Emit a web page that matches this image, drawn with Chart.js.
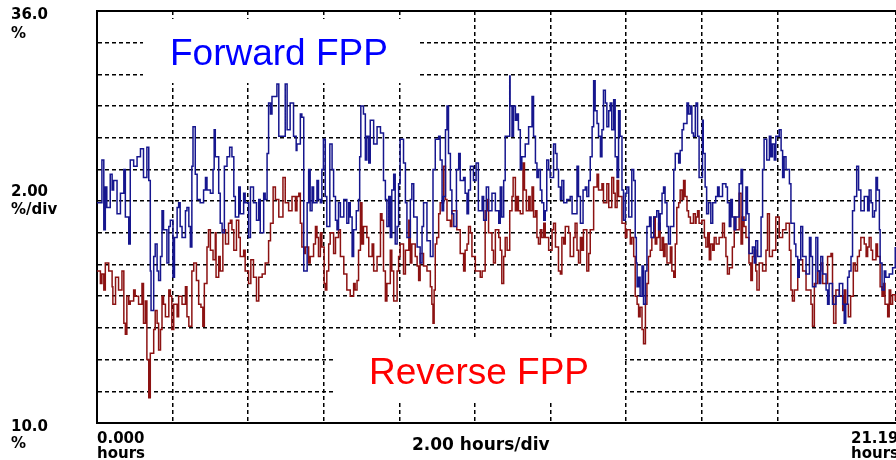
<!DOCTYPE html>
<html>
<head>
<meta charset="utf-8">
<script src="https://cdn.jsdelivr.net/npm/chart.js@4.4.0/dist/chart.umd.min.js"></script>
<style>
html, body { margin: 0; padding: 0; background: #fff; overflow: hidden; }
</style>
</head>
<body>
<canvas id="fppChart" width="896" height="460"></canvas>
<script>
// forward FPP (blue), hours / percent
var fwdHours = [
  0, .13, .18, .22, .26, .35, .40, .44, .53, .62,
  .71, .75, .84, .88, .97, 1.06, 1.15, 1.23, 1.32, 1.37,
  1.41, 1.43, 1.50, 1.54, 1.59, 1.63, 1.68, 1.72, 1.76, 1.85,
  1.90, 1.94, 2.01, 2.05, 2.12, 2.16, 2.20, 2.25, 2.34, 2.38,
  2.43, 2.47, 2.51, 2.54, 2.60, 2.65, 2.73, 2.82, 2.87, 2.91,
  3.00, 3.07, 3.10, 3.13, 3.22, 3.26, 3.31, 3.37, 3.44, 3.51,
  3.57, 3.62, 3.66, 3.75, 3.79, 3.88, 3.92, 4.01, 4.06, 4.14,
  4.22, 4.28, 4.32, 4.41, 4.45, 4.50, 4.54, 4.59, 4.63, 4.76,
  4.81, 4.98, 5.03, 5.11, 5.20, 5.27,
  5.29, 5.38, 5.42, 5.47, 5.56, 5.60, 5.64, 5.69, 5.73, 5.82,
  5.86, 5.91, 5.95, 5.99, 6.04, 6.08, 6.16, 6.22, 6.26, 6.31,
  6.35, 6.39, 6.44, 6.53, 6.61, 6.66, 6.70, 6.75, 6.79, 6.86,
  6.92, 6.95, 6.98, 7.05, 7.10, 7.14, 7.19, 7.23, 7.32, 7.41,
  7.50, 7.58, 7.63, 7.67, 7.72, 7.76, 7.80, 7.85, 7.89, 7.94,
  7.98, 8.02, 8.11, 8.16, 8.20, 8.29, 8.33, 8.38, 8.47, 8.55,
  8.60, 8.64, 8.73, 8.82, 8.89, 8.95, 9.04, 9.08, 9.13, 9.17,
  9.22, 9.26, 9.30, 9.35, 9.39, 9.44, 9.51, 9.57, 9.61, 9.70,
  9.74, 9.79, 9.83, 9.88, 9.96, 10.03, 10.09, 10.19, 10.23, 10.30,
  10.36, 10.45, 10.54,
  10.58, 10.63, 10.67, 10.71, 10.76, 10.80, 10.92, 10.93, 10.98, 11.02,
  11.07, 11.11, 11.15, 11.20, 11.24, 11.33, 11.42, 11.51, 11.55, 11.60,
  11.64, 11.68, 11.73, 11.77, 11.82, 11.86, 11.90, 11.95, 11.99, 12.08,
  12.13, 12.17, 12.21, 12.26, 12.30, 12.35, 12.43, 12.52, 12.57, 12.70,
  12.74, 12.79, 12.86, 12.92, 12.96, 13.01, 13.05, 13.10, 13.14, 13.18,
  13.23, 13.27, 13.32, 13.36, 13.40, 13.45, 13.49, 13.54, 13.58, 13.62,
  13.67, 13.71, 13.76, 13.80, 13.84, 13.89, 13.93, 13.98, 14.02, 14.07,
  14.15, 14.20, 14.24, 14.27, 14.29, 14.33, 14.37, 14.42, 14.46, 14.51,
  14.55, 14.62, 14.66, 14.73, 14.81, 14.86, 14.90, 14.95, 14.99, 15.03,
  15.08, 15.12, 15.17, 15.26, 15.30, 15.39, 15.43, 15.48, 15.52, 15.61,
  15.65, 15.70, 15.74, 15.78, 15.83,
  15.85, 15.89, 15.93, 16.02, 16.04, 16.09, 16.13, 16.18, 16.24, 16.29,
  16.37, 16.42, 16.46, 16.55, 16.64, 16.68, 16.73, 16.77, 16.81, 16.86,
  16.90, 16.99, 17.04, 17.08, 17.17, 17.21, 17.25, 17.34, 17.39, 17.43,
  17.48, 17.57, 17.61, 17.65, 17.72, 17.79, 17.83, 17.87, 17.92, 17.96,
  18.05, 18.10, 18.14, 18.18, 18.23, 18.32, 18.36, 18.45, 18.49, 18.54,
  18.58, 18.62, 18.67, 18.76, 18.85, 18.89, 18.93, 19.02, 19.07, 19.11,
  19.15, 19.20, 19.29, 19.33, 19.37, 19.46, 19.55, 19.64, 19.73, 19.77,
  19.81, 19.86, 19.90, 19.95, 19.99, 20.04, 20.10, 20.15, 20.21, 20.30,
  20.39, 20.43, 20.48, 20.52, 20.57, 20.61, 20.65, 20.70, 20.72, 20.77,
  20.83, 20.87, 20.96, 21.05, 21.12
];
var fwdPct = [
  23.9, 26.6, 22.2, 24.9, 23.6, 25.7, 24.7, 25.3, 23.2, 24.5,
  26.0, 23.0, 21.3, 26.6, 26.2, 26.8, 27.3, 25.5, 27.4, 25.3,
  19.6, 17.1, 20.5, 21.3, 19.6, 19.0, 20.5, 23.4, 22.2, 20.1,
  22.4, 22.8, 19.2, 21.7, 23.6, 23.9, 22.4, 21.7, 23.4, 23.6,
  22.4, 21.1, 26.2, 28.7, 25.7, 24.1, 23.9, 24.7, 25.5, 24.7,
  24.5, 26.0, 28.5, 26.8, 24.5, 22.6, 22.0, 26.2, 26.8, 27.4,
  26.8, 24.3, 23.0, 24.9, 23.2, 24.5, 23.9, 21.7, 24.9, 23.9,
  22.8, 24.1, 22.0, 24.5, 24.1, 27.0, 30.2, 29.5, 30.6, 31.4,
  28.1, 31.4, 28.5, 30.2, 28.1, 27.2,
  27.6, 29.5, 29.3, 19.6, 23.9, 26.0, 23.4, 24.9, 23.9, 25.3,
  24.1, 23.9, 26.0, 27.9, 24.3, 22.4, 27.6, 26.0, 24.3, 22.8,
  22.2, 23.9, 23.0, 24.1, 22.6, 23.9, 23.0, 20.5, 22.2, 23.4,
  24.1, 26.8, 30.0, 29.5, 26.6, 28.1, 26.4, 29.1, 27.6, 28.7,
  28.3, 25.3, 24.1, 22.4, 24.3, 21.7, 24.7, 25.7, 21.3, 22.4,
  25.1, 27.9, 26.4, 23.9, 21.7, 24.1, 25.1, 23.0, 21.1, 20.1,
  22.4, 23.9, 21.5, 20.5, 26.0, 27.9, 28.1, 26.6, 23.4, 24.3,
  28.5, 30.0, 27.0, 24.7, 23.2, 22.4, 26.0, 27.0, 25.3, 25.5,
  24.5, 23.2, 24.7, 26.2, 25.3, 26.4, 23.4, 24.3, 22.8, 24.9,
  23.4, 24.5, 23.4,
  23.4, 22.6, 24.9, 23.0, 25.3, 28.1, 31.9, 30.0, 28.1, 30.0,
  29.1, 29.5, 28.5, 26.0, 26.8, 27.6, 28.7, 30.6, 28.1, 26.4,
  25.5, 26.0, 24.7, 23.9, 22.8, 23.4, 26.6, 26.0, 25.5, 27.6,
  27.0, 26.0, 24.9, 24.1, 25.3, 23.9, 24.1, 24.3, 23.2, 26.2,
  24.3, 22.6, 24.7, 24.9, 24.3, 25.3, 26.8, 28.7, 31.6, 29.7,
  28.9, 28.1, 26.8, 28.5, 31.0, 30.2, 28.7, 29.7, 30.2, 28.5,
  30.4, 26.8, 25.5, 29.7, 28.1, 24.7, 22.8, 24.5, 24.9, 23.0,
  26.0, 25.3, 21.7, 20.1, 18.6, 19.2, 18.0, 19.9, 17.5, 19.6,
  22.4, 23.0, 21.7, 23.0, 23.4, 22.2, 23.2, 24.5, 24.9, 23.9,
  22.4, 21.3, 22.4, 26.0, 27.0, 26.4, 27.2, 28.5, 28.9, 30.2,
  29.5, 30.0, 28.3, 28.1, 30.0,
  30.2, 28.1, 25.5, 29.1, 27.0, 24.9, 23.2, 23.9, 22.6, 23.9,
  24.3, 24.9, 24.3, 25.1, 24.9, 23.9, 22.4, 24.1, 23.0, 22.2,
  23.0, 25.1, 26.0, 22.8, 24.9, 23.2, 20.7, 21.1, 20.1, 21.5,
  20.5, 23.0, 26.0, 27.9, 26.6, 28.1, 26.8, 27.6, 26.6, 28.1,
  28.5, 27.2, 25.5, 26.8, 26.0, 25.1, 22.6, 21.3, 20.5, 19.2,
  20.3, 22.4, 20.5, 19.4, 21.7, 20.5, 18.6, 21.7, 19.6, 18.8,
  20.5, 19.4, 18.4, 17.5, 18.8, 17.5, 18.0, 18.8, 17.5, 16.3,
  17.5, 19.2, 19.6, 20.5, 23.4, 24.3, 26.2, 24.7, 23.4, 24.3,
  23.4, 24.7, 23.9, 23.0, 23.4, 25.5, 24.7, 22.2, 20.1, 18.4,
  19.6, 19.2, 19.4, 19.8, 21.1
];

// reverse FPP (dark red), hours / percent
var revHours = [
  0, .09, .13, .18, .22, .31, .40, .42, .49, .57,
  .66, .71, .75, .79, .84, .88, .97, 1.01, 1.10, 1.19,
  1.23, 1.28, 1.32, 1.37, 1.41, 1.50, 1.54, 1.59, 1.63, 1.68,
  1.72, 1.76, 1.81, 1.90, 1.94, 1.98, 2.03, 2.12, 2.16, 2.25,
  2.34, 2.38, 2.43, 2.51, 2.56, 2.63, 2.69, 2.75, 2.80, 2.84,
  2.91, 2.95, 3.00, 3.07, 3.13, 3.15, 3.22, 3.26, 3.33, 3.40,
  3.48, 3.53, 3.57, 3.62, 3.69, 3.75, 3.79, 3.88, 3.92, 4.01,
  4.07, 4.14, 4.22, 4.28, 4.37, 4.45, 4.54, 4.59, 4.66, 4.72,
  4.81, 4.92, 4.98, 5.07, 5.16, 5.25,
  5.29, 5.34, 5.38, 5.42, 5.47, 5.51, 5.60, 5.64, 5.73, 5.78,
  5.82, 5.86, 5.91, 5.95, 6.01, 6.04, 6.08, 6.13, 6.17, 6.26,
  6.31, 6.39, 6.44, 6.53, 6.61, 6.70, 6.79, 6.83, 6.88, 6.92,
  6.97, 7.01, 7.05, 7.14, 7.19, 7.28, 7.32, 7.41, 7.50, 7.54,
  7.58, 7.63, 7.67, 7.76, 7.80, 7.85, 7.94, 7.98, 8.02, 8.11,
  8.16, 8.25, 8.29, 8.33, 8.42, 8.47, 8.51, 8.55, 8.64, 8.73,
  8.82, 8.86, 8.89, 8.92, 8.95, 8.99, 9.04, 9.08, 9.17, 9.22,
  9.26, 9.35, 9.39, 9.52, 9.61, 9.70, 9.74, 9.79, 9.83, 9.88,
  9.92, 10.01, 10.14, 10.19, 10.27, 10.32, 10.36, 10.45, 10.49, 10.54,
  10.58, 10.63, 10.67, 10.71, 10.76, 10.80, 10.85, 10.92, 10.98, 11.01,
  11.07, 11.11, 11.15, 11.20, 11.27, 11.31, 11.36, 11.42, 11.46, 11.51,
  11.55, 11.60, 11.64, 11.68, 11.73, 11.77, 11.82, 11.86, 11.95, 12.04,
  12.08, 12.13, 12.21, 12.26, 12.30, 12.35, 12.39, 12.48, 12.52, 12.61,
  12.65, 12.70, 12.74, 12.79, 12.83, 12.87, 12.96, 13.01, 13.05, 13.14,
  13.23, 13.27, 13.36, 13.40, 13.49, 13.54, 13.62, 13.67, 13.71, 13.76,
  13.80, 13.89, 13.98, 14.02, 14.11, 14.15, 14.20, 14.24, 14.29, 14.33,
  14.37, 14.42, 14.46, 14.51, 14.55, 14.59, 14.64, 14.68, 14.73, 14.77,
  14.81, 14.86, 14.90, 14.95, 14.99, 15.03, 15.08, 15.17, 15.21, 15.26,
  15.30, 15.34, 15.39, 15.43, 15.48, 15.52, 15.56, 15.61, 15.65, 15.70,
  15.78, 15.83,
  15.85, 15.89, 15.93, 16.00, 16.07, 16.11, 16.16, 16.20, 16.24, 16.29,
  16.33, 16.38, 16.46, 16.55, 16.60, 16.64, 16.68, 16.73, 16.81, 16.86,
  16.90, 16.99, 17.04, 17.08, 17.12, 17.17, 17.25, 17.30, 17.34, 17.39,
  17.43, 17.46, 17.52, 17.61, 17.70, 17.74, 17.79, 17.87, 17.96, 18.05,
  18.14, 18.23, 18.32, 18.36, 18.40, 18.45, 18.54, 18.58, 18.67, 18.76,
  18.89, 18.93, 18.98, 19.07, 19.15, 19.20, 19.33, 19.42, 19.46, 19.49,
  19.55, 19.64, 19.73, 19.77, 19.81, 19.88, 19.94, 20.01, 20.06, 20.12,
  20.17, 20.21, 20.30, 20.35, 20.39, 20.43, 20.48, 20.52, 20.61, 20.65,
  20.72, 20.77, 20.81, 20.85, 20.92, 20.96, 21.00, 21.05, 21.12
];
var revPct = [
  19.6, 18.8, 19.4, 18.4, 20.1, 19.6, 18.6, 17.5, 19.2, 18.4,
  19.6, 16.3, 15.6, 18.0, 17.5, 17.7, 18.4, 18.0, 17.5, 18.8,
  16.3, 17.7, 14.0, 11.6, 14.4, 15.9, 17.1, 16.3, 14.6, 15.9,
  18.0, 17.5, 16.7, 18.4, 18.0, 15.9, 17.5, 16.7, 18.0, 17.5,
  18.6, 16.7, 16.1, 19.6, 20.1, 19.0, 17.5, 17.3, 16.1, 18.8,
  21.1, 22.2, 20.9, 20.3, 22.0, 19.2, 20.5, 19.6, 22.2, 21.3,
  22.6, 22.8, 22.2, 20.9, 22.8, 21.7, 20.5, 20.9, 19.6, 18.8,
  20.3, 19.2, 17.7, 19.2, 19.4, 20.1, 21.5, 22.6, 24.9, 24.1,
  23.0, 25.5, 23.9, 23.4, 24.3, 23.4,
  24.3, 24.5, 22.6, 21.1, 20.7, 21.1, 20.1, 20.5, 21.3, 22.4,
  21.7, 20.5, 22.0, 21.1, 18.8, 18.4, 19.6, 21.3, 22.0, 20.7,
  21.7, 22.2, 20.5, 19.4, 18.4, 18.0, 18.8, 18.4, 19.0, 20.9,
  23.9, 21.3, 22.4, 21.7, 20.5, 21.3, 19.6, 20.5, 23.2, 22.8,
  19.6, 17.7, 18.8, 20.9, 19.6, 17.7, 19.6, 20.5, 21.3, 19.4,
  20.9, 22.8, 20.1, 21.3, 20.5, 19.9, 19.0, 20.7, 19.9, 19.6,
  18.6, 17.5, 16.3, 18.4, 21.3, 21.7, 23.2, 23.9, 26.2, 24.1,
  22.8, 22.4, 23.4, 22.2, 20.7, 19.6, 20.9, 21.3, 22.4, 22.0,
  20.5, 19.6, 19.2, 19.6, 23.4, 24.1, 22.0, 20.9, 20.1, 22.2,
  22.2, 21.7, 20.9, 18.8, 20.5, 21.7, 20.9, 23.4, 24.3, 25.5,
  23.4, 24.3, 23.4, 23.2, 26.4, 24.7, 23.4, 24.3, 23.4, 24.9,
  23.0, 23.4, 21.7, 21.3, 22.2, 21.7, 22.6, 21.7, 20.9, 22.2,
  22.6, 21.1, 19.6, 19.4, 21.7, 21.3, 22.4, 22.0, 20.5, 21.7,
  22.6, 20.9, 20.1, 21.7, 20.9, 22.2, 19.6, 20.7, 22.2, 24.9,
  25.7, 24.7, 25.1, 23.9, 25.1, 23.6, 25.5, 24.5, 23.6, 25.3,
  24.3, 22.6, 21.7, 22.2, 21.3, 21.7, 20.5, 18.0, 17.5, 16.7,
  17.3, 15.9, 15.0, 17.5, 18.8, 20.5, 20.9, 21.7, 23.0, 21.3,
  21.7, 22.6, 20.9, 21.7, 20.5, 21.3, 20.1, 21.1, 19.6, 19.2,
  21.3, 23.6, 23.9, 24.7, 24.1, 25.3, 24.3, 23.4, 23.0, 22.6,
  23.2, 22.6,
  23.0, 23.4, 22.6, 22.8, 21.7, 21.1, 22.0, 20.3, 21.3, 20.9,
  21.7, 21.3, 21.7, 22.6, 21.7, 20.5, 19.4, 19.8, 21.1, 23.0,
  22.2, 24.5, 21.3, 23.0, 22.4, 21.7, 20.1, 19.0, 20.5, 20.9,
  19.6, 18.4, 20.1, 19.6, 20.9, 23.2, 20.5, 20.9, 23.0, 21.7,
  22.2, 22.6, 20.9, 18.4, 17.7, 18.4, 19.6, 20.3, 19.6, 18.4,
  17.5, 16.1, 18.8, 19.6, 20.1, 18.8, 20.5, 20.7, 18.0, 16.3,
  18.4, 18.0, 17.1, 18.4, 17.5, 16.7, 18.0, 20.1, 19.6, 20.5,
  20.9, 21.7, 21.3, 20.5, 21.1, 21.7, 20.9, 20.3, 21.3, 20.5,
  18.6, 18.0, 18.8, 17.5, 16.7, 18.4, 17.5, 18.1, 17.7
];

var yMin = 10, yMax = 36, yStep = 2;
var xMin = 0, xMax = 21.14, xStep = 2;

function toPoints(hours, pct) {
  var pts = [];
  for (var i = 0; i < Math.min(hours.length, pct.length); i++) {
    pts.push({ x: hours[i], y: pct[i] });
  }
  return pts;
}

// labels, text boxes and the solid top edge
var fppDecor = {
  id: 'fppDecor',
  beforeDatasetsDraw: function(chart) {
    var ctx = chart.ctx, a = chart.chartArea;
    ctx.save();
    ctx.fillStyle = '#fff';
    ctx.fillRect(143, 19, 274, 64);
    ctx.fillRect(333, 337, 292, 63);
    ctx.strokeStyle = '#000';
    ctx.lineWidth = 2;
    ctx.beginPath();
    ctx.moveTo(a.left - 1, a.top);
    ctx.lineTo(a.right, a.top);
    ctx.stroke();
    ctx.font = '37px "Liberation Sans", Arial, sans-serif';
    ctx.textBaseline = 'alphabetic';
    ctx.fillStyle = '#0000ff';
    ctx.fillText('Forward FPP', 170, 65);
    ctx.fillStyle = '#ff0000';
    ctx.fillText('Reverse FPP', 369, 384);
    ctx.restore();
  },
  afterDraw: function(chart) {
    var ctx = chart.ctx;
    ctx.save();
    ctx.fillStyle = '#000';
    ctx.textBaseline = 'alphabetic';
    ctx.font = 'bold 15px "DejaVu Sans", sans-serif';
    ctx.fillText('36.0', 11, 19);
    ctx.fillText('%', 11, 38);
    ctx.fillText('2.00', 11, 196);
    ctx.fillText('%/div', 11, 214);
    ctx.fillText('10.0', 11, 431);
    ctx.fillText('%', 11, 448);
    ctx.fillText('0.000', 97, 443);
    ctx.fillText('hours', 97, 458);
    ctx.fillText('21.19', 851, 443);
    ctx.fillText('hours', 851, 458);
    ctx.font = 'bold 17px "DejaVu Sans", sans-serif';
    ctx.fillText('2.00 hours/div', 412, 450);
    ctx.restore();
  }
};

var conf_fpp = {
  type: 'line',
  data: {
    datasets: [{
      label: 'Forward FPP',
      data: toPoints(fwdHours, fwdPct),
      borderColor: '#16168e',
      borderWidth: 1.5,
      pointRadius: 0,
      stepped: true,
      fill: false
    }, {
      label: 'Reverse FPP',
      data: toPoints(revHours, revPct),
      borderColor: '#8c1212',
      borderWidth: 1.5,
      pointRadius: 0,
      stepped: true,
      fill: false
    }]
  },
  options: {
    responsive: false,
    animation: false,
    layout: { padding: { left: 97, top: 11, right: 0, bottom: 37 } },
    plugins: { legend: { display: false }, tooltip: { enabled: false } },
    scales: {
      x: {
        type: 'linear',
        min: xMin, max: xMax,
        ticks: { display: false, stepSize: xStep },
        grid: { color: '#000', lineWidth: 1.5, drawTicks: false },
        border: { display: true, color: '#000', width: 2, dash: [4, 3] }
      },
      y: {
        min: yMin, max: yMax,
        ticks: { display: false, stepSize: yStep },
        grid: { color: '#000', lineWidth: 1.5, drawTicks: false },
        border: { display: true, color: '#000', width: 2, dash: [4, 3] }
      }
    }
  },
  plugins: [fppDecor]
};

var ctx = document.getElementById('fppChart').getContext('2d');
var fppChart = new Chart(ctx, conf_fpp);
</script>
</body>
</html>
